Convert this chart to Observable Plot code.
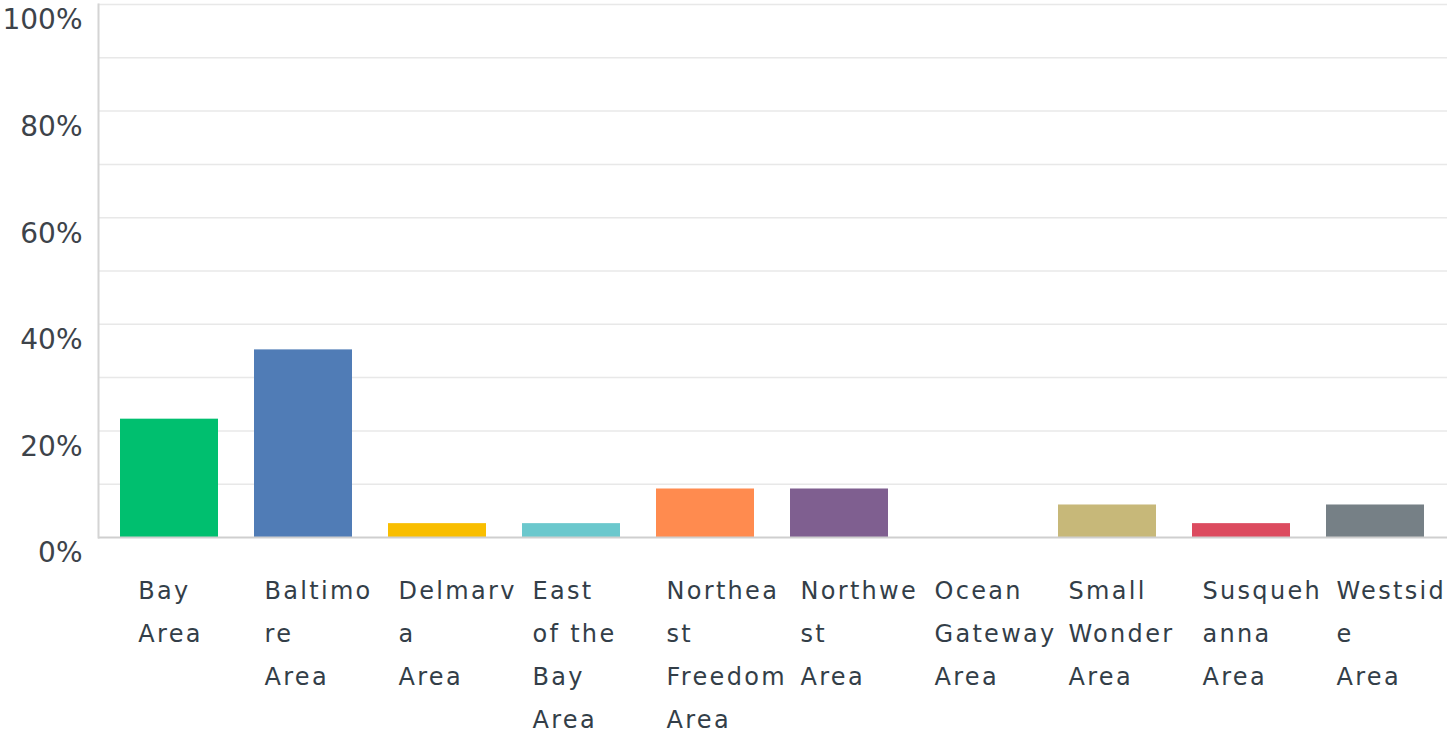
<!DOCTYPE html>
<html>
<head>
<meta charset="utf-8">
<script src="https://cdn.jsdelivr.net/npm/d3@7"></script>
<script src="https://cdn.jsdelivr.net/npm/@observablehq/plot@0.6"></script>
<style>
  html, body { margin: 0; padding: 0; background: #fff; }
  #chart svg { display: block; }
  #chart g[aria-label="text"] text { letter-spacing: 2.3px; }
</style>
</head>
<body>
<div id="chart"></div>
<script>
// Categories (full names) and the wrapped labels as shown on the chart
const categories = [
  "Bay Area", "Baltimore Area", "Delmarva Area", "East of the Bay Area",
  "Northeast Freedom Area", "Northwest Area", "Ocean Gateway Area",
  "Small Wonder Area", "Susquehanna Area", "Westside Area"
];
const labels = [
  "Bay\nArea", "Baltimo\nre\nArea", "Delmarv\na\nArea", "East\nof the\nBay\nArea",
  "Northea\nst\nFreedom\nArea", "Northwe\nst\nArea", "Ocean\nGateway\nArea",
  "Small\nWonder\nArea", "Susqueh\nanna\nArea", "Westsid\ne\nArea"
];
// Percent of responses
const values = [22.2, 35.2, 2.6, 2.6, 9.1, 9.1, 0, 6.1, 2.6, 6.1];
const palette = ["#00bf6f", "#507cb6", "#f9be00", "#6bc8cd", "#ff8b4f",
                 "#7f5f90", "#a0a0a0", "#c7b879", "#dc4b5f", "#768086"];
const gridTicks = [10, 20, 30, 40, 50, 60, 70, 80, 90, 100];
const labelTicks = [0, 20, 40, 60, 80, 100];

const data = categories.map((c, i) => ({category: c, label: labels[i], value: values[i]}));

// measure label block width for placement
const ctx = document.createElement("canvas").getContext("2d");
ctx.font = "24px 'DejaVu Sans'";
function blockWidth(s) {
  return d3.max(s.split("\n"), l => ctx.measureText(l).width + 2.3 * l.length);
}

const chart = Plot.plot({
  width: 1448,
  height: 731,
  marginLeft: 98,
  marginRight: 1,
  marginTop: 4,
  marginBottom: 194,
  style: {fontFamily: "'DejaVu Sans', sans-serif", color: "#333e48", background: "#fff"},
  x: {domain: categories, paddingInner: 0.268, paddingOuter: 0.135, axis: null},
  y: {domain: [0, 100], axis: null},
  color: {domain: categories, range: palette},
  marks: [
    Plot.gridY(gridTicks, {stroke: "#e8e8e8", strokeOpacity: 1, strokeWidth: 1.5}),
    Plot.axisY(labelTicks, {
      tickSize: 0, tickPadding: 16, fontSize: 28, dy: 16,
      tickFormat: d => d + "%", fill: "#3d434a", label: null
    }),
    Plot.barY(data, {x: "category", y: "value", fill: "category"}),
    Plot.ruleY([0], {stroke: "#cfcfcf", strokeWidth: 2}),
    Plot.frame({anchor: "left", stroke: "#d4d4d4", strokeWidth: 2}),
    ...data.map(d => Plot.text([d], {
      x: "category", text: "label", frameAnchor: "bottom",
      textAnchor: "start", lineAnchor: "top", lineHeight: 1.79,
      fontSize: 24, fill: "#333e48",
      dy: 31, dx: -Math.min(40, blockWidth(d.label) / 2) + 1
    }))
  ]
});
document.getElementById("chart").appendChild(chart);
</script>
</body>
</html>
